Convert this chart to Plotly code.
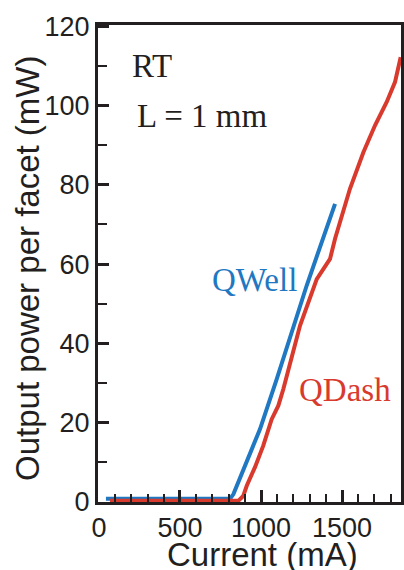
import plotly.graph_objects as go

qwell_current = [43, 809, 830, 854, 912, 994, 1097, 1282, 1457]
qwell_power = [0.8, 0.8, 2.0, 4.5, 10.0, 18.4, 31.0, 54.6, 75.2]

qdash_current = [68, 860, 890, 912, 963, 1014, 1066, 1107, 1138, 1154, 1241, 1344,
                 1426, 1457, 1549, 1632, 1704, 1776, 1827, 1862]
qdash_power = [0.3, 0.3, 1.5, 4.1, 8.8, 14.2, 20.9, 24.3, 28.5, 31.0, 44.5, 56.2,
               61.3, 66.4, 79.0, 88.2, 95.0, 100.9, 105.9, 112.2]

x_ticks = [0, 500, 1000, 1500]
y_ticks = [0, 20, 40, 60, 80, 100, 120]

BLUE = "#1f78c1"
RED = "#d93a2e"
INK = "#231f20"
SANS = "Liberation Sans, Arial"
SERIF = "Liberation Serif, Times New Roman"

fig = go.Figure()
fig.add_trace(go.Scatter(x=qwell_current, y=qwell_power, mode="lines",
                         line=dict(color=BLUE, width=4), showlegend=False))
fig.add_trace(go.Scatter(x=qdash_current, y=qdash_power, mode="lines",
                         line=dict(color=RED, width=4), showlegend=False))

axis_common = dict(showgrid=False, zeroline=False, showline=True, linecolor=INK,
                   linewidth=3, mirror=True, ticks="inside", tickcolor=INK,
                   tickwidth=3, automargin=False,
                   tickfont=dict(family=SANS, size=27, color=INK))

fig.update_xaxes(range=[-6, 1864], tickvals=x_ticks, ticklen=12,
                 minor=dict(dtick=100, tick0=0, ticks="inside", ticklen=8, tickwidth=2, tickcolor=INK),
                 **axis_common)
fig.update_yaxes(range=[0, 120.3], tickvals=y_ticks, ticklen=11,
                 minor=dict(dtick=10, tick0=0, ticks="inside", ticklen=9, tickwidth=2, tickcolor=INK),
                 **axis_common)

L, R, T, B = 98, 3, 25, 68
PW = 404 - L - R
PH = 570 - T - B


def px(xp):
    return (xp - L) / PW


def py(yp):
    return (570 - B - yp) / PH


fig.add_annotation(text="Current (mA)", xref="paper", yref="paper", x=px(262), y=py(554),
                   xanchor="center", yanchor="middle", showarrow=False,
                   font=dict(family=SANS, size=33, color=INK))
fig.add_annotation(text="Output power per facet (mW)", xref="paper", yref="paper",
                   x=px(27), y=py(269), textangle=-90,
                   xanchor="center", yanchor="middle", showarrow=False,
                   font=dict(family=SANS, size=33, color=INK))

fig.add_annotation(text="RT", xref="x", yref="y", x=190, y=110.0, xanchor="left", yanchor="middle",
                   showarrow=False, font=dict(family=SERIF, size=33, color=INK))
fig.add_annotation(text="L = 1 mm", xref="x", yref="y", x=220, y=97.4, xanchor="left", yanchor="middle",
                   showarrow=False, font=dict(family=SERIF, size=33, color=INK))
fig.add_annotation(text="QWell", xref="x", yref="y", x=685, y=56.0, xanchor="left", yanchor="middle",
                   showarrow=False, font=dict(family=SERIF, size=33, color=BLUE))
fig.add_annotation(text="QDash", xref="x", yref="y", x=1222, y=28.3, xanchor="left", yanchor="middle",
                   showarrow=False, font=dict(family=SERIF, size=33, color=RED))

fig.update_layout(width=404, height=570, plot_bgcolor="white", paper_bgcolor="white",
                  margin=dict(l=L, r=R, t=T, b=B))

fig.write_html("out.html")
